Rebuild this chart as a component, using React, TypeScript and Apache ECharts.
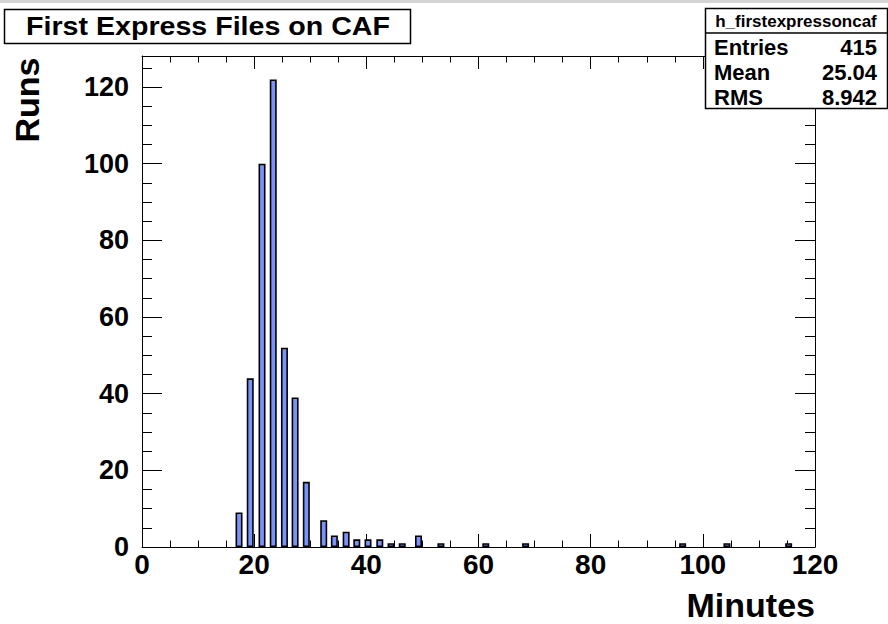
import React, { useEffect, useRef } from "react";
import * as echarts from "echarts";

// Histogram bin positions (minutes) and counts (runs)
const minutes = [17.3, 19.3, 21.4, 23.4, 25.4, 27.3, 29.3, 32.4, 34.3, 36.4, 38.3, 40.3, 42.4, 44.4, 46.4, 49.3, 53.3, 61.3, 68.4, 96.4, 104.3, 115.3];
const runs = [9, 44, 100, 122, 52, 39, 17, 7, 3, 4, 2, 2, 2, 1, 1, 3, 1, 1, 1, 1, 1, 1];

const title = "First Express Files on CAF";
const histName = "h_firstexpressoncaf";
const statLabels = ["Entries", "Mean", "RMS"];
const statValues = ["415", "25.04", "8.942"];
const xTitle = "Minutes";
const yTitle = "Runs";

const X_MIN = 0;
const X_MAX = 120;
const Y_MIN = 0;
const Y_MAX = 128.1;

const FONT = "'Liberation Sans', Arial, Helvetica, sans-serif";

export default function App() {
  const ref = useRef<HTMLDivElement>(null);

  useEffect(() => {
    if (!ref.current) return;
    const chart = echarts.init(ref.current, undefined, { renderer: "svg" });

    const black = "#000";
    const noSplit = { show: false };

    const xBase = (position: string, interval: number, tickLen: number, showLine: boolean, showLabel: boolean) => ({
      type: "value",
      min: X_MIN,
      max: X_MAX,
      interval,
      position,
      splitLine: noSplit,
      axisLine: { show: showLine, onZero: false, lineStyle: { color: black, width: 1 } },
      axisTick: { show: true, inside: true, length: tickLen, lineStyle: { color: black, width: 1 } },
      axisLabel: {
        show: showLabel,
        color: black,
        fontFamily: FONT,
        fontWeight: "bold",
        fontSize: 28,
        margin: 3,
      },
    });

    const yBase = (position: string, interval: number, tickLen: number, showLine: boolean, showLabel: boolean) => ({
      type: "value",
      min: Y_MIN,
      max: Y_MAX,
      interval,
      position,
      splitLine: noSplit,
      axisLine: { show: showLine, onZero: false, lineStyle: { color: black, width: 1 } },
      axisTick: { show: true, inside: true, length: tickLen, lineStyle: { color: black, width: 1 } },
      axisLabel: {
        show: showLabel,
        showMaxLabel: false,
        color: black,
        fontFamily: FONT,
        fontWeight: "bold",
        fontSize: 27,
        margin: 13,
      },
    });

    const option: any = {
      animation: false,
      backgroundColor: "#ffffff",
      grid: { left: 142, right: 73, top: 56, bottom: 77, containLabel: false },
      xAxis: [
        xBase("bottom", 20, 13, true, true),
        xBase("bottom", 5, 6.5, false, false),
        xBase("top", 20, 13, true, false),
        xBase("top", 5, 6.5, false, false),
      ],
      yAxis: [
        yBase("left", 20, 20, true, true),
        yBase("left", 5, 10, false, false),
        yBase("right", 20, 20, true, false),
        yBase("right", 5, 10, false, false),
      ],
      series: [
        {
          type: "bar",
          xAxisIndex: 0,
          yAxisIndex: 0,
          barWidth: 7,
          data: minutes.map((m, i) => [m, runs[i]]),
          itemStyle: { color: "#7a92fb", borderColor: black, borderWidth: 1.6 },
        },
      ],
      graphic: [
        { type: "rect", shape: { x: 0, y: 0, width: 888, height: 3 }, style: { fill: "#d4d4d4" }, z: 10 },
        {
          type: "rect",
          shape: { x: 4.5, y: 9.5, width: 406, height: 34 },
          style: { fill: "#fff", stroke: black, lineWidth: 1.5 },
          z: 10,
        },
        {
          type: "text",
          x: 208,
          y: 26,
          scaleX: 1.1,
          style: {
            text: title,
            fill: black,
            font: `bold 26px ${FONT}`,
            align: "center",
            verticalAlign: "middle",
          },
          z: 11,
        },
        {
          type: "rect",
          shape: { x: 705.5, y: 8.5, width: 182, height: 100 },
          style: { fill: "#fff", stroke: black, lineWidth: 1.5 },
          z: 10,
        },
        {
          type: "line",
          shape: { x1: 705.5, y1: 33, x2: 887.5, y2: 33 },
          style: { stroke: black, lineWidth: 1.5 },
          z: 11,
        },
        {
          type: "text",
          x: 796,
          y: 21,
          style: {
            text: histName,
            fill: black,
            font: `bold 17px ${FONT}`,
            align: "center",
            verticalAlign: "middle",
          },
          z: 11,
        },
        ...statLabels.map((s, i) => ({
          type: "text",
          x: 714,
          y: 47 + i * 25,
          style: { text: s, fill: black, font: `bold 22px ${FONT}`, align: "left", verticalAlign: "middle" },
          z: 11,
        })),
        ...statValues.map((s, i) => ({
          type: "text",
          x: 877,
          y: 47 + i * 25,
          style: { text: s, fill: black, font: `bold 22px ${FONT}`, align: "right", verticalAlign: "middle" },
          z: 11,
        })),
        {
          type: "text",
          x: 27,
          y: 100,
          rotation: Math.PI / 2,
          style: {
            text: yTitle,
            fill: black,
            font: `bold 34px ${FONT}`,
            align: "center",
            verticalAlign: "middle",
          },
          z: 11,
        },
        {
          type: "text",
          x: 815,
          y: 605,
          style: {
            text: xTitle,
            fill: black,
            font: `bold 34px ${FONT}`,
            align: "right",
            verticalAlign: "middle",
          },
          z: 11,
        },
      ],
    };

    chart.setOption(option);
    return () => chart.dispose();
  }, []);

  return (
    <div
      ref={ref}
      style={{ position: "fixed", left: 0, top: 0, width: 888, height: 624, background: "#fff" }}
    />
  );
}
